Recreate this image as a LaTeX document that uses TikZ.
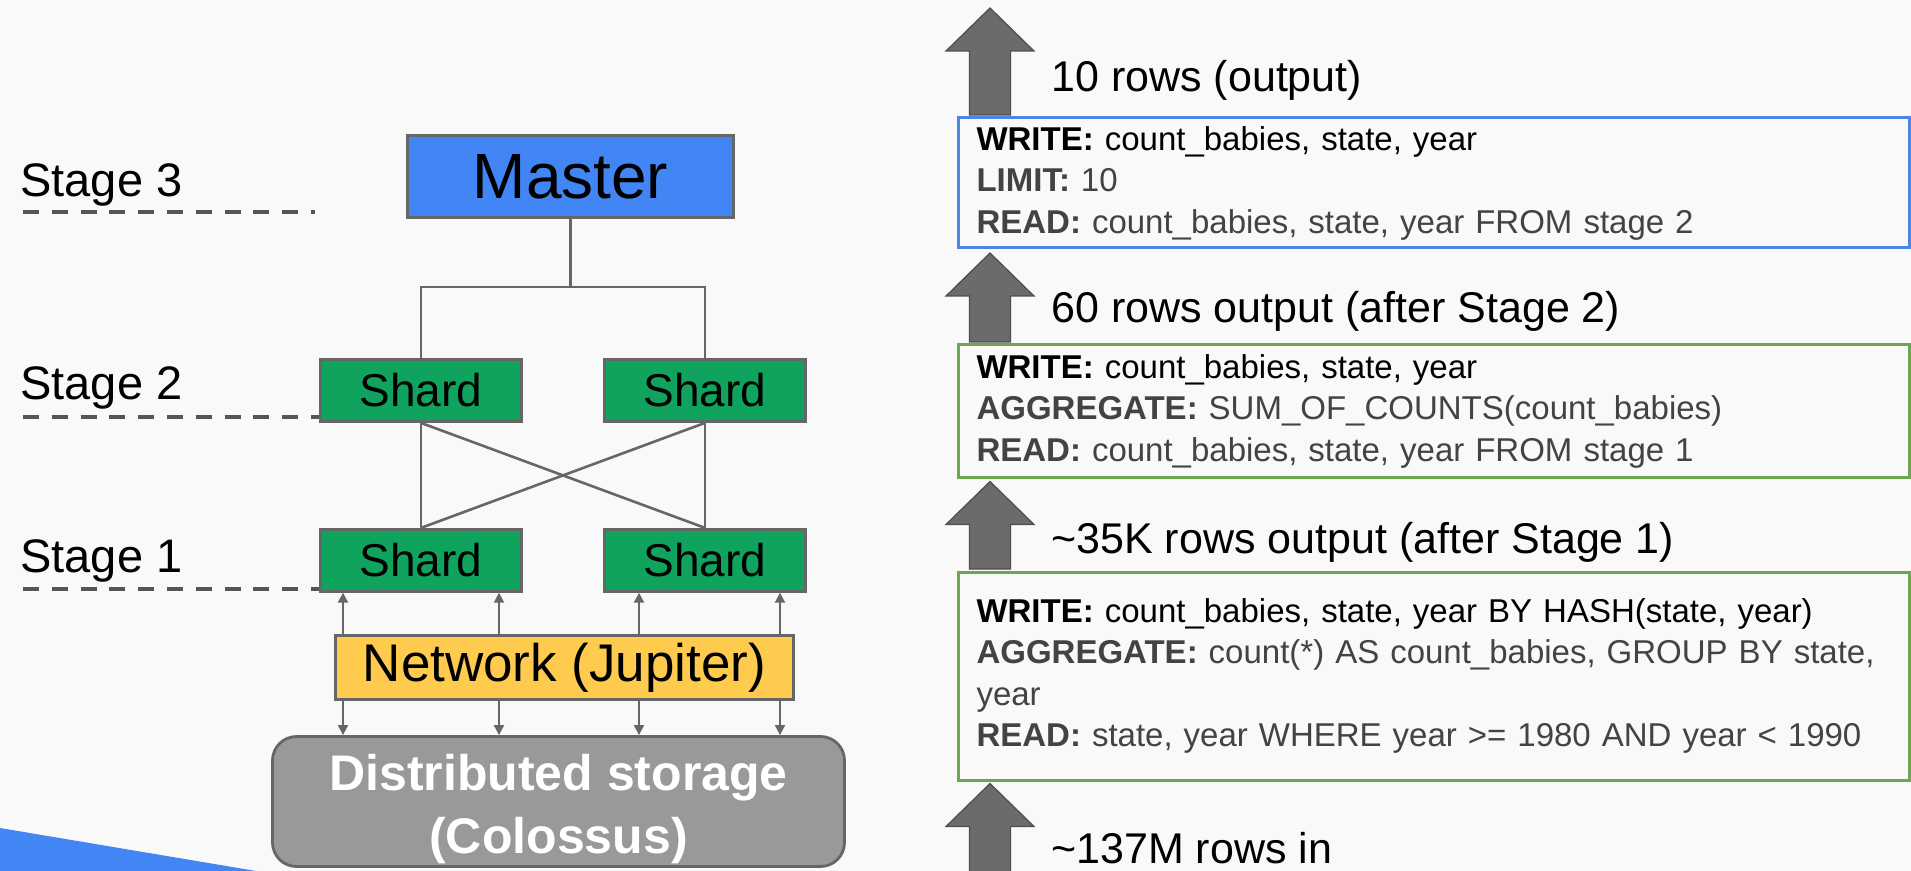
\documentclass[tikz,border=0pt]{standalone}
\usepackage{fontspec}
\setmainfont{Liberation Sans}
\usepackage{xcolor}
\usepackage{tikz}
\usetikzlibrary{positioning}
\usetikzlibrary{arrows.meta}
\usetikzlibrary{calc}

\definecolor{slidebg}{HTML}{F9F9F9}
\definecolor{edgegray}{HTML}{666666}
\definecolor{dashgray}{HTML}{555555}
\definecolor{masterblue}{HTML}{4285F4}
\definecolor{shardgreen}{HTML}{0FA35D}
\definecolor{netyellow}{HTML}{FFCB4F}
\definecolor{storegray}{HTML}{999999}
\definecolor{planblue}{HTML}{4A86E8}
\definecolor{plangreen}{HTML}{6AA84F}
\definecolor{plantext}{HTML}{434343}
\definecolor{flowgray}{HTML}{6B6B6B}
\definecolor{flowedge}{HTML}{4D4D4D}

% big up arrow: #1 = tip, #2 = foot (same x)
\newcommand{\flowarrow}[2]{%
  \draw[flow] (#1) -- ++(44,43) -- ++(-23.5,0) |- ($(#2)+(-20.5,0)$)
    |- ($(#1)+(-44,43)$) -- cycle;}

\begin{document}
\begin{tikzpicture}[x=0.5pt, y=-0.5pt, >={Triangle[width=5pt,length=5pt]},
    tier/.style={draw=edgegray, line width=1.4pt, inner sep=0pt},
    master/.style={tier, fill=masterblue, minimum width=163pt, minimum height=41pt,
                   font=\fontsize{32pt}{36pt}\selectfont},
    shard/.style={tier, fill=shardgreen, minimum width=100.5pt, minimum height=31pt,
                  font=\fontsize{23pt}{27pt}\selectfont},
    network/.style={tier, fill=netyellow, minimum width=229pt, minimum height=32pt,
                    font=\fontsize{26.5pt}{30pt}\selectfont},
    storage/.style={tier, fill=storegray, rounded corners=12pt,
                    minimum width=286pt, minimum height=65pt},
    storetext/.style={text=white, align=center, inner sep=0pt,
                      font=\bfseries\fontsize{25pt}{31.5pt}\selectfont},
    stagelbl/.style={anchor=base west, inner sep=0pt,
                     font=\fontsize{23.5pt}{28pt}\selectfont},
    stageline/.style={draw=dashgray, line width=1.6pt, dash pattern=on 8pt off 6.4pt},
    link/.style={draw=edgegray, line width=1.3pt},
    bus/.style={draw=edgegray, line width=1pt, ->},
    planbox/.style={draw=#1, line width=1.5pt, fill=slidebg, anchor=north west,
                    text width=457pt, inner xsep=9.25pt, inner ysep=2pt, align=left,
                    font=\fontsize{16.5pt}{20.75pt}\selectfont},
    flowlbl/.style={anchor=base west, inner sep=0pt,
                    font=\fontsize{21.5pt}{25pt}\selectfont},
    flow/.style={fill=flowgray, draw=flowedge, line width=0.6pt}]

  \clip (0,0) rectangle (1911,871);
  \fill[slidebg] (0,0) rectangle (1911,871);
  \fill[masterblue] (0,828) -- (262,872) -- (0,872) -- cycle;

  % left: execution tree
  \node[stagelbl] (lbl3) at (20,197) {Stage 3};
  \node[stagelbl] (lbl2) at (20,400) {Stage 2};
  \node[stagelbl] (lbl1) at (20,572) {Stage 1};

  \draw[stageline] (23,212) -- (315,212);
  \draw[stageline] (23,417) -- (319,417);
  \draw[stageline] (23,589) -- (319,589);

  \node[master]  (master) at (570.5,176.5)       {Master};
  \node[shard]   (s2l)    at (421,390.5)         {Shard};
  \node[shard]   (s2r)    at (705,390.5)         {Shard};
  \node[shard]   (s1l)    [below=52.5pt of s2l]  {Shard};
  \node[shard]   (s1r)    [below=52.5pt of s2r]  {Shard};
  \node[network] (net)    at (564.5,667.5)       {Network (Jupiter)};
  \node[storage] (store)  at (558.5,801.5)       {};
  \node[storetext] (storelbl) at ($(store)+(0,7.5)$) {Distributed storage\\(Colossus)};

  \draw[link] (master.south) -- ++(0,68) coordinate (split);
  \draw[link] (s2l.north) |- (split) -| (s2r.north);
  \path[link]
    (s2l.south) edge (s1l.north)
                edge (s1r.north)
    (s2r.south) edge (s1r.north)
                edge (s1l.north);

  \foreach \sh/\dx in {s1l/-78, s1l/78, s1r/-66, s1r/75} {
    \draw[bus] ($(\sh.south |- net.north)+(\dx,0)$) -- ($(\sh.south)+(\dx,0)$);
    \draw[bus] ($(\sh.south |- net.south)+(\dx,0)$) -- ($(\sh.south |- store.north)+(\dx,0)$);
  }

  % right: query plan
  \node[planbox=planblue, minimum height=65pt] (b1) at (956.5,116.5)
    {\textbf{WRITE:} count\_babies, state, year\\
     \color{plantext}\textbf{LIMIT:} 10\\
     \textbf{READ:} count\_babies, state, year FROM stage 2};
  \node[planbox=plangreen, minimum height=66pt] (b2) at (956.5,343.5)
    {\textbf{WRITE:} count\_babies, state, year\\
     \color{plantext}\textbf{AGGREGATE:} SUM\_OF\_COUNTS(count\_babies)\\
     \textbf{READ:} count\_babies, state, year FROM stage 1};
  \node[planbox=plangreen, minimum height=104pt] (b3) at (956.5,570.5)
    {\textbf{WRITE:} count\_babies, state, year BY HASH(state, year)\\
     \color{plantext}\textbf{AGGREGATE:} count(*) AS count\_babies, GROUP BY state,\\
     year\\
     \textbf{READ:} state, year WHERE year >= 1980 AND year < 1990};

  \coordinate (tip0)  at (990,8);
  \coordinate (foot0) at ($(b1.north -| tip0)+(0,-1.5)$);
  \coordinate (tip1)  at ($(b1.south -| tip0)+(0,3.5)$);
  \coordinate (foot1) at ($(b2.north -| tip0)+(0,-1.5)$);
  \coordinate (tip2)  at ($(b2.south -| tip0)+(0,3)$);
  \coordinate (foot2) at ($(b3.north -| tip0)+(0,-1.5)$);
  \coordinate (tip3)  at ($(b3.south -| tip0)+(0,2)$);
  \coordinate (foot3) at ($(tip3)+(0,120)$);

  \flowarrow{tip0}{foot0}
  \flowarrow{tip1}{foot1}
  \flowarrow{tip2}{foot2}
  \flowarrow{tip3}{foot3}

  \node[flowlbl] (rows0) at (1051,92)  {10 rows (output)};
  \node[flowlbl] (rows1) at (1051,323) {60 rows output (after Stage 2)};
  \node[flowlbl] (rows2) at (1051,553) {\textasciitilde35K rows output (after Stage 1)};
  \node[flowlbl] (rows3) at (1051,863) {\textasciitilde137M rows in};

\end{tikzpicture}
\end{document}
